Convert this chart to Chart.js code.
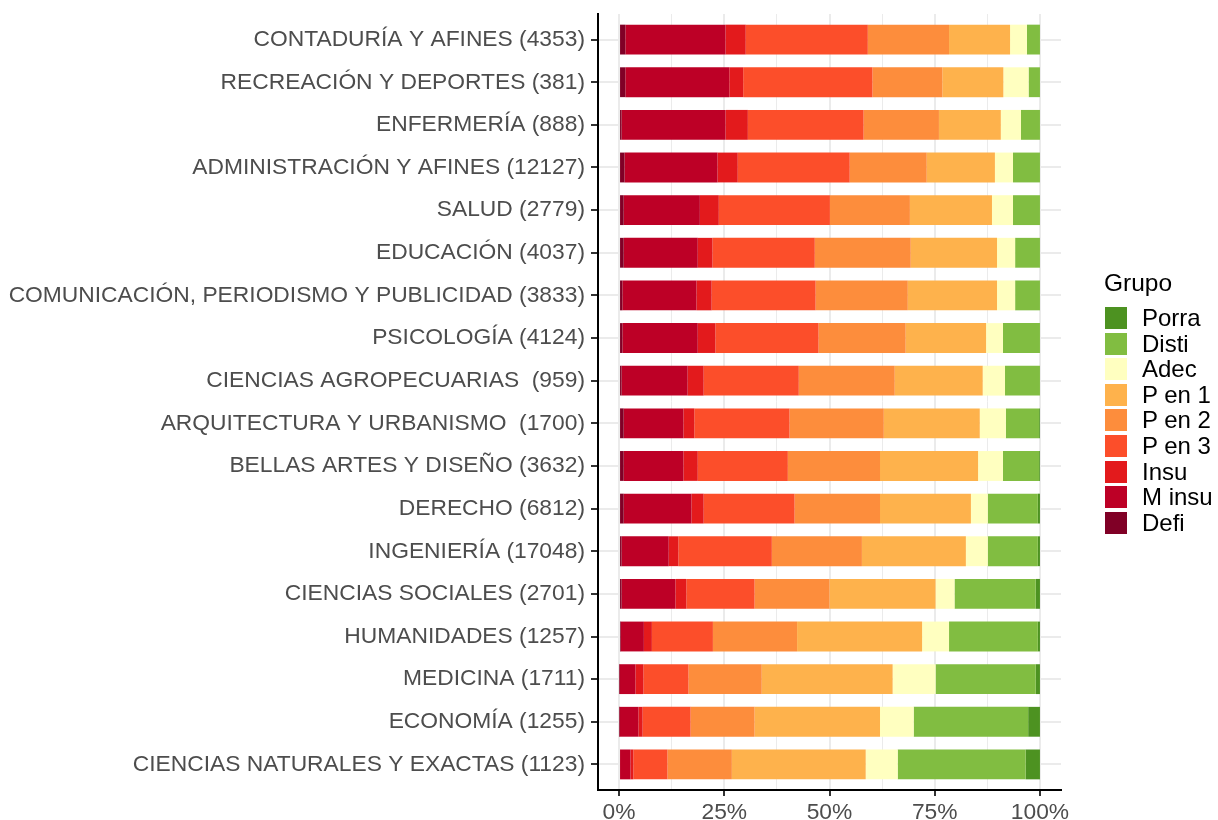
<!DOCTYPE html>
<html>
<head>
<meta charset="utf-8">
<script src="https://cdn.jsdelivr.net/npm/chart.js@4"></script>
<style>
  body { margin: 0; background: #fff; }
  #wrap { position: relative; width: 1218px; height: 820px; }
  #legend { position: absolute; left: 1104px; top: 268px; font-family: "Liberation Sans", Arial, sans-serif; color: #000; }
  #legend .title { font-size: 24.5px; line-height: 30px; height: 30px; margin-bottom: 7px; }
  #legend .row { height: 25.6px; line-height: 25.6px; font-size: 24px; position: relative; white-space: nowrap; }
  #legend .key { position: absolute; left: 1px; top: 2px; width: 22px; height: 22px; }
  #legend .lab { position: absolute; left: 38px; top: 0; }
</style>
</head>
<body>
<div id="wrap">
  <canvas id="myChart" width="1218" height="820"></canvas>
  <div id="legend"></div>
</div>
<script>
var categories = [
  "CONTADURÍA Y AFINES (4353)",
  "RECREACIÓN Y DEPORTES (381)",
  "ENFERMERÍA (888)",
  "ADMINISTRACIÓN Y AFINES (12127)",
  "SALUD (2779)",
  "EDUCACIÓN (4037)",
  "COMUNICACIÓN, PERIODISMO Y PUBLICIDAD (3833)",
  "PSICOLOGÍA (4124)",
  "CIENCIAS AGROPECUARIAS  (959)",
  "ARQUITECTURA Y URBANISMO  (1700)",
  "BELLAS ARTES Y DISEÑO (3632)",
  "DERECHO (6812)",
  "INGENIERÍA (17048)",
  "CIENCIAS SOCIALES (2701)",
  "HUMANIDADES (1257)",
  "MEDICINA (1711)",
  "ECONOMÍA (1255)",
  "CIENCIAS NATURALES Y EXACTAS (1123)"
];

// percentages per group, same order as categories
var defi  = [1.5, 1.5, 0.6, 1.3, 1.1, 1.1, 0.8, 0.8, 0.6, 1.1, 1.1, 1.1, 0.6, 0.6, 0.4, 0.1, 0.1, 0];
var minsu = [23.8, 24.7, 24.7, 22.1, 18.1, 17.6, 17.6, 17.9, 15.7, 14.2, 14.2, 16.1, 11.2, 12.8, 5.5, 3.8, 4.5, 2.7];
var insu  = [4.8, 3.3, 5.3, 4.8, 4.5, 3.5, 3.6, 4.2, 3.8, 2.6, 3.4, 2.9, 2.3, 2.6, 1.9, 1.9, 1.0, 0.7];
var pen3  = [29.0, 30.7, 27.5, 26.6, 26.4, 24.3, 24.7, 24.5, 22.6, 22.6, 21.4, 21.6, 22.2, 16.2, 14.5, 10.7, 11.4, 8.1];
var pen2  = [19.3, 16.6, 17.9, 18.3, 19.0, 22.8, 21.9, 20.7, 22.8, 22.4, 21.9, 20.3, 21.4, 17.8, 20.0, 17.4, 15.2, 15.3];
var pen1  = [14.5, 14.5, 14.7, 16.2, 19.5, 20.5, 21.2, 19.1, 20.9, 22.8, 23.3, 21.6, 24.7, 25.2, 29.7, 31.1, 29.8, 31.8];
var adec  = [4.0, 6.0, 4.8, 4.3, 5.0, 4.3, 4.3, 4.0, 5.3, 6.2, 5.9, 4.0, 5.2, 4.5, 6.4, 10.2, 8.0, 7.6];
var disti = [3.1, 2.7, 4.5, 6.4, 6.4, 5.9, 5.9, 8.8, 8.3, 7.9, 8.6, 11.9, 11.9, 19.3, 21.1, 23.8, 27.2, 30.4];
var porra = [0, 0, 0, 0, 0, 0, 0, 0, 0, 0.2, 0.2, 0.5, 0.5, 1.0, 0.5, 1.0, 2.8, 3.4];

var groupNames = ["Defi", "M insu", "Insu", "P en 3", "P en 2", "P en 1", "Adec", "Disti", "Porra"];
var groupColors = ["#800026", "#BD0026", "#E31A1C", "#FC4E2A", "#FD8D3C", "#FEB24C", "#FFFFC0", "#81BD41", "#4D9221"];
var groupValues = [defi, minsu, insu, pen3, pen2, pen1, adec, disti, porra];

var xTicks = [0, 12.5, 25, 37.5, 50, 62.5, 75, 87.5, 100];

var font = "'Liberation Sans', Arial, sans-serif";

var datasets = [];
for (var i = 0; i < groupNames.length; i++) {
  datasets.push({
    label: groupNames[i],
    data: groupValues[i],
    backgroundColor: groupColors[i],
    borderWidth: 0,
    categoryPercentage: 1,
    barPercentage: 0.7
  });
}

function isMajor(ctx) {
  return ctx.tick && ctx.tick.value % 25 === 0;
}

var chart = new Chart(document.getElementById('myChart').getContext('2d'), {
  type: 'bar',
  data: { labels: categories, datasets: datasets },
  options: {
    indexAxis: 'y',
    responsive: false,
    devicePixelRatio: 1,
    animation: false,
    layout: { padding: { top: 14, right: 157, bottom: 0, left: 0 } },
    plugins: { legend: { display: false }, tooltip: { enabled: false } },
    scales: {
      x: {
        stacked: true,
        min: -5,
        max: 105,
        afterBuildTicks: function (s) { s.ticks = xTicks.map(function (v) { return { value: v }; }); },
        afterFit: function (s) { s.height = 30; },
        border: { display: true, color: '#000', width: 2 },
        grid: {
          color: '#EBEBEB',
          lineWidth: function (ctx) { return isMajor(ctx) ? 2 : 1; },
          tickColor: function (ctx) { return isMajor(ctx) ? '#333' : 'rgba(0,0,0,0)'; },
          tickWidth: 2,
          tickLength: 6
        },
        ticks: {
          autoSkip: false,
          maxRotation: 0,
          padding: 3,
          color: '#4D4D4D',
          font: { family: font, size: 22.8 },
          callback: function (v) { return v % 25 === 0 ? v + '%' : ''; }
        }
      },
      y: {
        stacked: true,
        offset: true,
        afterBuildTicks: function (s) {
          // ggplot-style discrete expansion of 0.6 units on each side
          s._startValue = -0.6;
          s._valueRange = categories.length - 1 + 1.2;
        },
        afterFit: function (s) { s.width = 598; s.paddingTop = 0; s.paddingBottom = 0; },
        border: { display: true, color: '#000', width: 2 },
        grid: {
          offset: false,
          color: '#EBEBEB',
          lineWidth: 2,
          tickColor: '#333',
          tickWidth: 2,
          tickLength: 7
        },
        ticks: {
          autoSkip: false,
          padding: 6,
          color: '#4D4D4D',
          font: { family: font, size: 22.8 }
        }
      }
    }
  }
});

// legend, top to bottom is the reverse of stacking order
var leg = document.getElementById('legend');
var t = document.createElement('div');
t.className = 'title';
t.textContent = 'Grupo';
leg.appendChild(t);
for (var j = groupNames.length - 1; j >= 0; j--) {
  var row = document.createElement('div');
  row.className = 'row';
  var key = document.createElement('div');
  key.className = 'key';
  key.style.background = groupColors[j];
  var lab = document.createElement('div');
  lab.className = 'lab';
  lab.textContent = groupNames[j];
  row.appendChild(key);
  row.appendChild(lab);
  leg.appendChild(row);
}
</script>
</body>
</html>
